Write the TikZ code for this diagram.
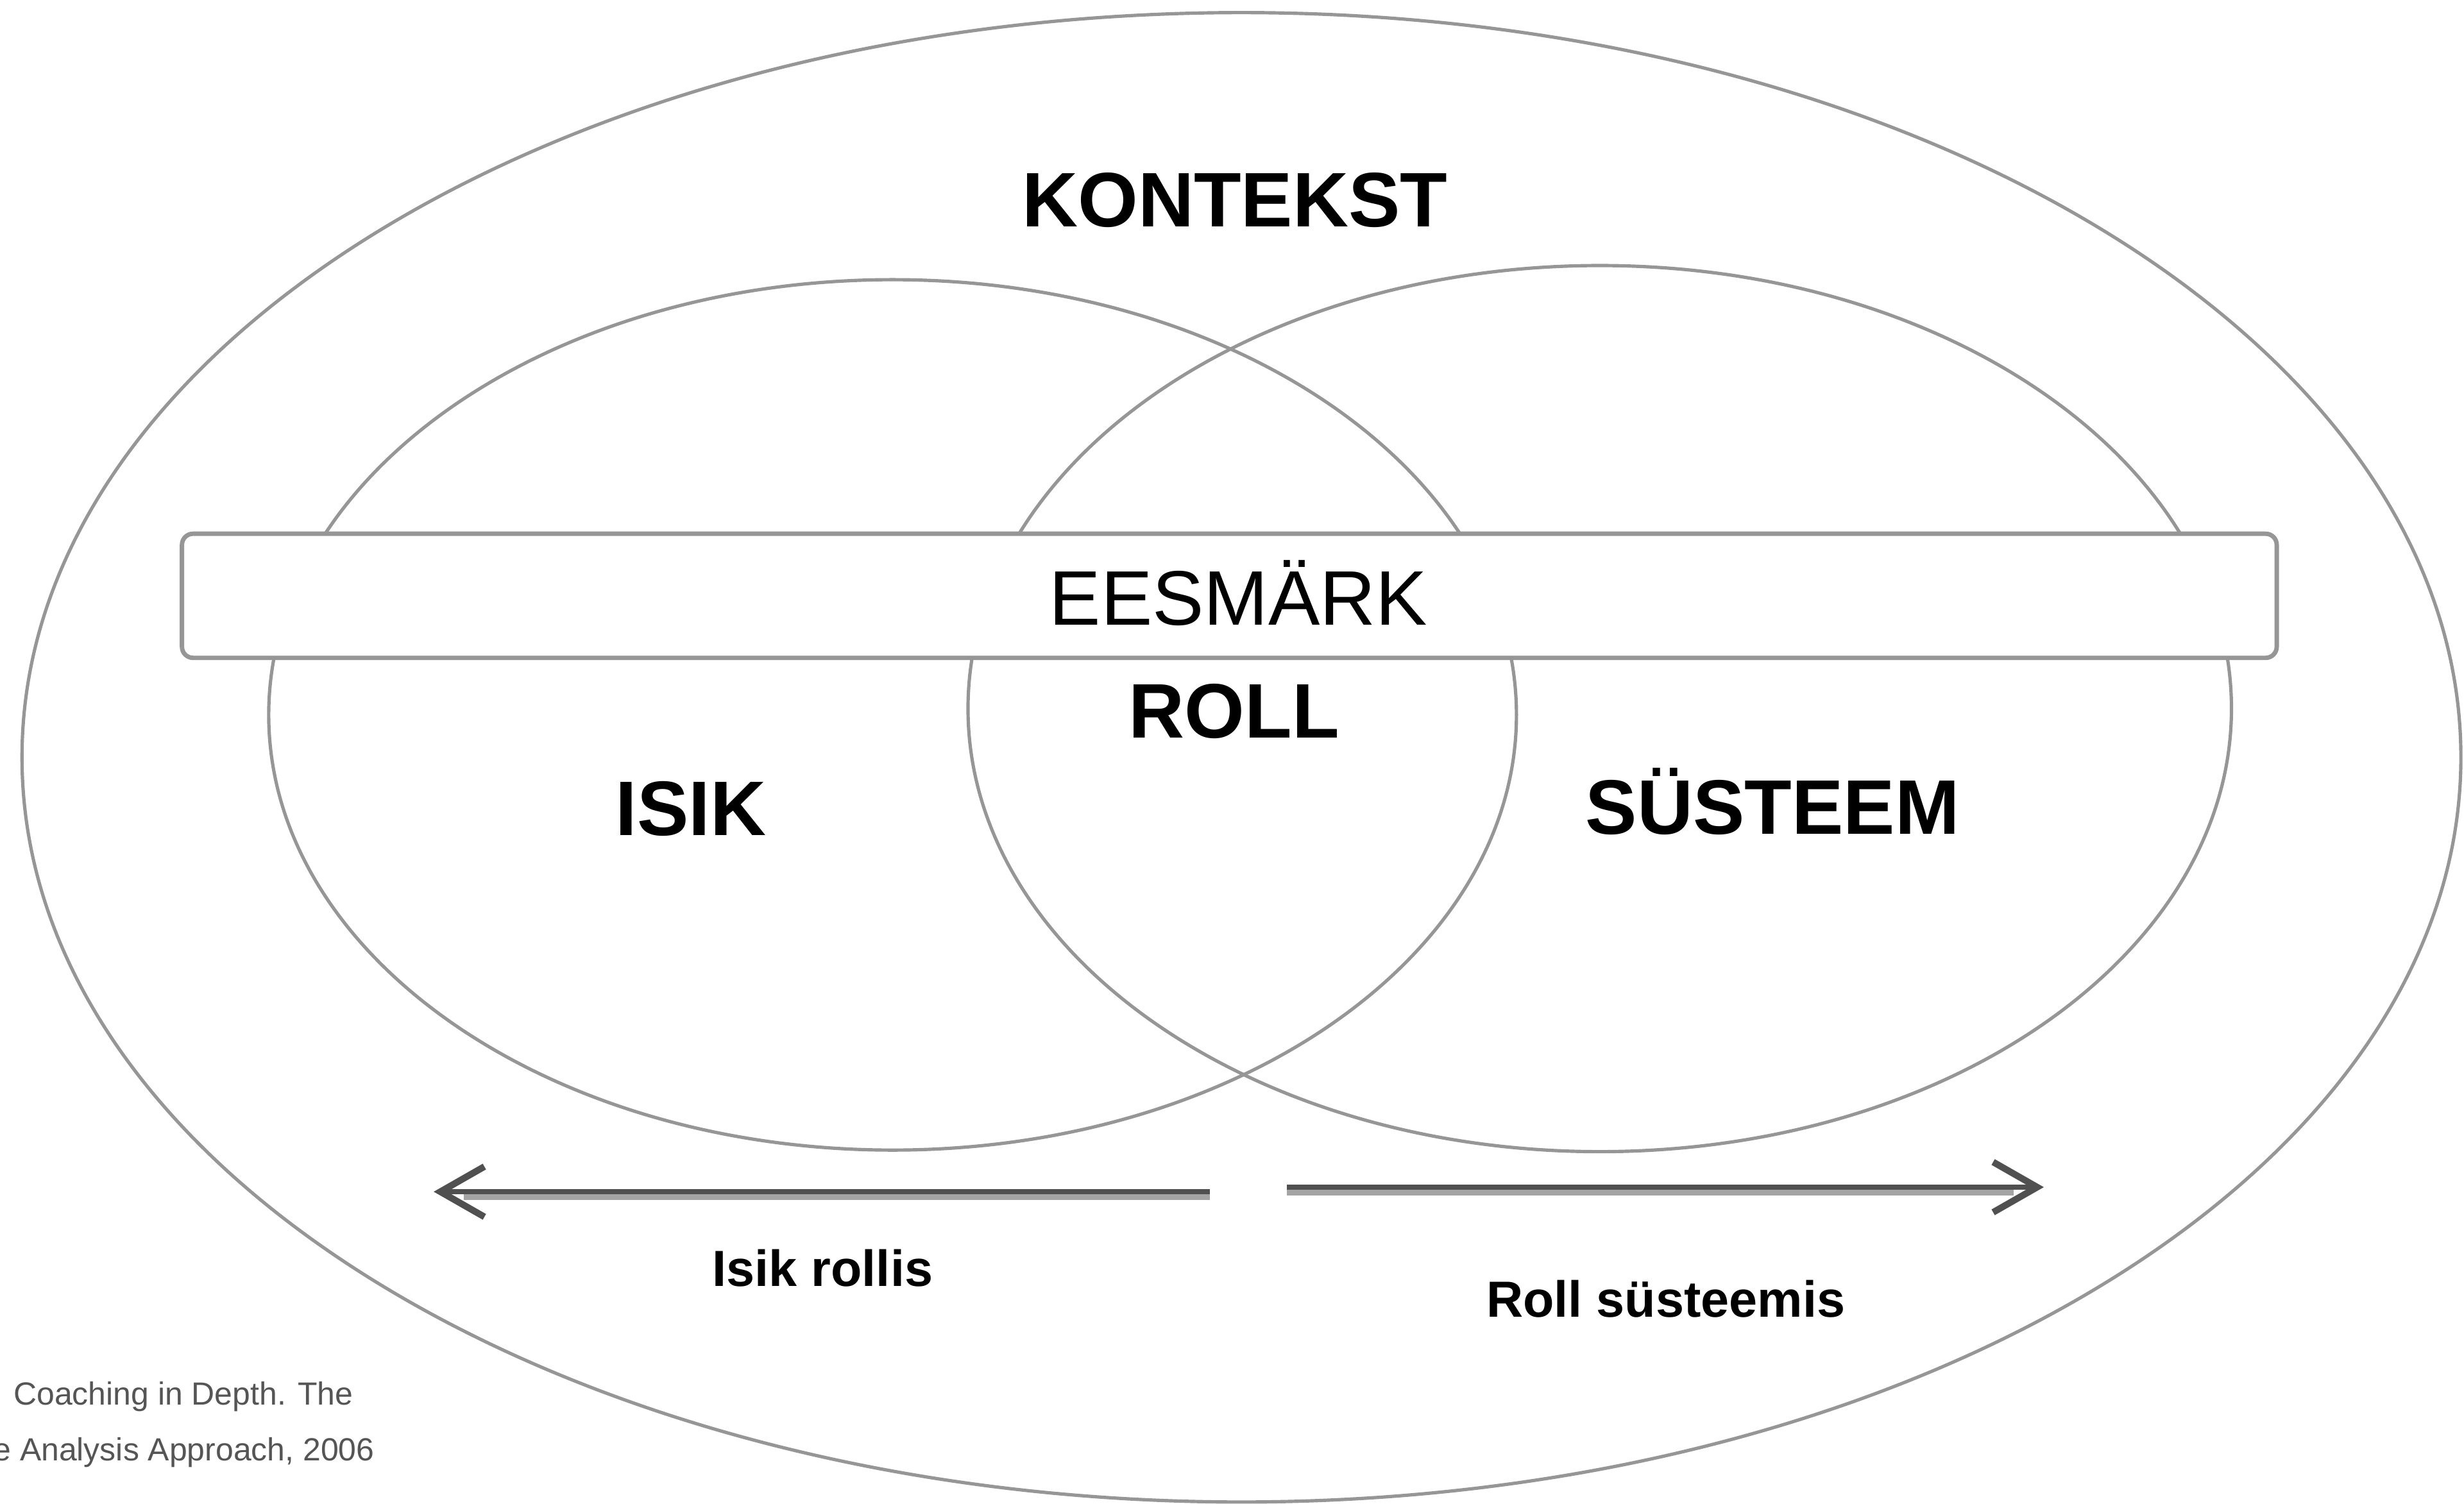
\documentclass[tikz,border=0pt]{standalone}
\usepackage{fontspec}
\setmainfont{Liberation Sans}
\usepackage{xcolor}
\usetikzlibrary{arrows.meta}

\definecolor{linegray}{RGB}{150,150,150}
\definecolor{arrowgray}{RGB}{80,80,80}
\definecolor{shadegray}{RGB}{164,164,164}
\definecolor{citegray}{RGB}{85,85,85}

\begin{document}
\begin{tikzpicture}[
  big/.style={font=\fontsize{14}{17}\selectfont\bfseries, anchor=base, inner sep=0pt},
  small/.style={font=\fontsize{9.2}{11}\selectfont\bfseries, anchor=base, inner sep=0pt},
  cite/.style={font=\fontsize{5.8}{7}\selectfont, text=citegray, anchor=base west, inner sep=0pt},
  bar/.style={draw=linegray, line width=0.8pt, fill=white, rounded corners=2pt, minimum width=13.33cm, minimum height=0.79cm},
  ring/.style={draw=linegray, line width=0.6pt},
  rolearrow/.style={draw=arrowgray, line width=0.85pt, -{Straight Barb[length=2.8mm,width=3.2mm,line width=1.2pt]}},
  shade/.style={draw=shadegray, line width=1.05pt}]

  \useasboundingbox (0,0) rectangle (15.68,-9.57);

  % Draw the context ellipse and the two overlapping ones
  \draw[ring] (7.90,-4.82) ellipse [x radius=7.76, y radius=4.74];
  \draw[ring] (5.68,-4.55) ellipse [x radius=3.97, y radius=2.77];
  \draw[ring] (10.18,-4.51) ellipse [x radius=4.02, y radius=2.82];

  % Goal bar lies over the ellipses
  \node[bar] (bar) at (7.823,-3.792) {};
  \node[font=\fontsize{14}{17}\selectfont, anchor=base, inner sep=0pt] (eesmark) at (7.88,-3.976) {EESMÄRK};

  % Labels
  \node[big] (kontekst) at (7.858,-1.441) {KONTEKST};
  \node[big] (roll) at (7.854,-4.695) {ROLL};
  \node[big] (isik) at (4.397,-5.315) {ISIK};
  \node[big] (systeem) at (11.28,-5.307) {SÜSTEEM};
  \node[small] (isikrollis) at (5.235,-8.185) {Isik rollis};
  \node[small] (rollsys) at (10.60,-8.381) {Roll süsteemis};

  % Source, cut at the left edge
  \node[cite] (cite1) at (0.08,-8.94) {Coaching in Depth. The};
  \node[cite] (cite2) at (-0.05,-9.296) {e Analysis Approach, 2006};

  % Arrows with a light shadow below
  \coordinate (lstart) at (7.70,-7.585);
  \coordinate (lend) at (2.76,-7.585);
  \coordinate (rstart) at (8.19,-7.556);
  \coordinate (rend) at (13.006,-7.556);
  \draw[shade] ([yshift=-0.033cm]lstart) -- ([xshift=0.19cm,yshift=-0.033cm]lend);
  \draw[shade] ([yshift=-0.033cm]rstart) -- ([xshift=-0.19cm,yshift=-0.033cm]rend);
  \draw[rolearrow] (lstart) -- (lend);
  \draw[rolearrow] (rstart) -- (rend);
\end{tikzpicture}
\end{document}
